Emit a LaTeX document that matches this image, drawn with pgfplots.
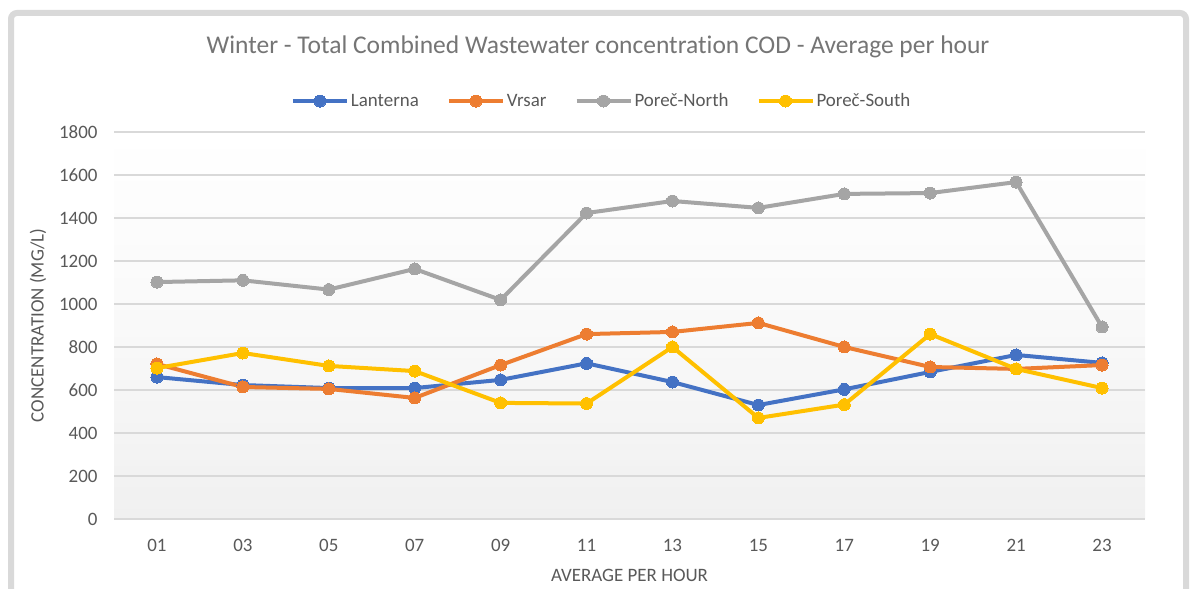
\documentclass[border=0pt]{standalone}
\usepackage{pgfplots}
\pgfplotsset{compat=1.18}
\usepackage{fontspec}
\setmainfont{Carlito}[Ligatures=NoCommon]
\definecolor{cBlue}{HTML}{4472C4}
\definecolor{cOrange}{HTML}{ED7D31}
\definecolor{cGray}{HTML}{A5A5A5}
\definecolor{cYellow}{HTML}{FFC000}
\definecolor{gridc}{HTML}{D9D9D9}
\definecolor{framec}{HTML}{D9D9D9}
\definecolor{tickc}{HTML}{595959}
\definecolor{titlec}{HTML}{757575}
\definecolor{bgbot}{HTML}{F0F0F0}
\begin{document}
\begin{tikzpicture}[x=1bp,y=1bp]
\useasboundingbox (0,0) rectangle (1192,589);
\fill[white] (0,0) rectangle (1192,589);
\draw[color=framec, line width=6bp, rounded corners=6bp] (11,-30) -- (11,576) -- (1186,576) -- (1186,-30);
\node[font=\fontsize{25.6}{26}\selectfont, text=titlec] at (598,542) {Winter - Total Combined Wastewater concentration COD - Average per hour};
\begin{axis}[
  at={(114bp,70bp)}, anchor=south west,
  scale only axis, width=1031bp, height=387bp,
  xmin=-0.5, xmax=11.5, ymin=0, ymax=1800,
  xtick={0,...,11},
  xticklabels={01,03,05,07,09,11,13,15,17,19,21,23},
  ytick={0,200,...,1800},
  ymajorgrids,
  major grid style={color=gridc, line width=1.5bp},
  axis line style={draw=none},
  major tick length=0pt,
  /pgf/number format/assume math mode=true,
  /pgf/number format/1000 sep={},
  ticklabel style={font=\fontsize{19}{19}\selectfont, text=tickc},
  xticklabel style={yshift=-17bp},
  yticklabel style={xshift=-13bp},
  axis background/.style={shade, top color=white, bottom color=bgbot, middle color=white!60!bgbot},
  xlabel={AVERAGE PER HOUR},
  ylabel={CONCENTRATION (MG/L)},
  label style={font=\fontsize{19}{19}\selectfont, text=tickc},
  xlabel style={at={(axis description cs:0.5,-0.1447)}, anchor=center},
  ylabel style={at={(axis description cs:-0.0737,0.5)}, anchor=center},
  legend columns=4,
  legend style={at={(axis description cs:0.473,1.08)}, anchor=center, draw=none, fill=none,
    font=\fontsize{19}{19}\selectfont, text=tickc,
    /tikz/every even column/.append style={column sep=26bp}},
  legend image code/.code={\draw[mark repeat=2,mark phase=2,#1] plot coordinates {(0bp,0bp) (27bp,0bp) (54bp,0bp)};},
  every axis plot/.append style={line width=4bp, mark=*, mark size=6bp},
]
\addplot[color=cBlue, mark options={fill=cBlue, draw=cBlue, line width=0pt}] coordinates {
(0,660) (1,623) (2,609) (3,609) (4,647) (5,724) (6,637) (7,530) (8,603) (9,684) (10,763) (11,726)};
\addlegendentry{Lanterna}
\addplot[color=cOrange, mark options={fill=cOrange, draw=cOrange, line width=0pt}] coordinates {
(0,721) (1,614) (2,605) (3,563) (4,716) (5,860) (6,870) (7,912) (8,800) (9,707) (10,698) (11,716)};
\addlegendentry{Vrsar}
\addplot[color=cGray, mark options={fill=cGray, draw=cGray, line width=0pt}] coordinates {
(0,1102) (1,1110) (2,1067) (3,1163) (4,1019) (5,1423) (6,1479) (7,1447) (8,1512) (9,1516) (10,1567) (11,893)};
\addlegendentry{Poreč-North}
\addplot[color=cYellow, mark options={fill=cYellow, draw=cYellow, line width=0pt}] coordinates {
(0,702) (1,772) (2,712) (3,688) (4,540) (5,537) (6,800) (7,470) (8,532) (9,860) (10,698) (11,609)};
\addlegendentry{Poreč-South}
\end{axis}
\end{tikzpicture}
\end{document}
